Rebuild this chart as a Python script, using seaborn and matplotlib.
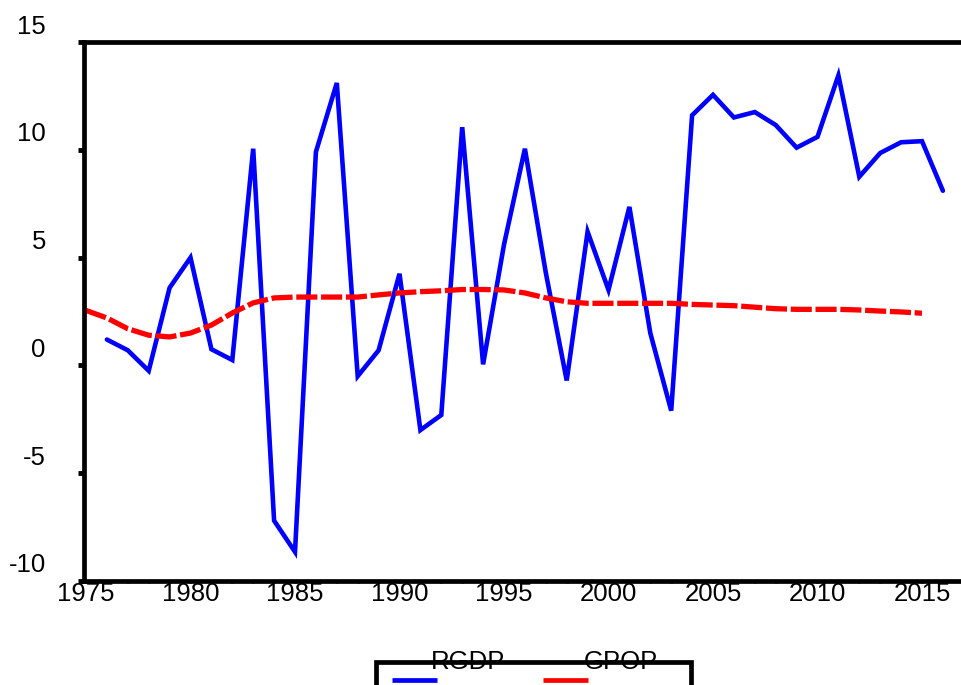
import numpy as np
import pandas as pd
import matplotlib
matplotlib.use("Agg")
import matplotlib.pyplot as plt
import seaborn as sns
from matplotlib.transforms import ScaledTranslation
from matplotlib.lines import Line2D

# ---- data ----
years_rgdp = list(range(1976, 2017))
rgdp = [1.2, 0.7, -0.25, 3.6, 5.0, 0.75, 0.25, 10.05, -7.2, -8.65,
        9.9, 13.1, -0.5, 0.7, 4.25, -3.0, -2.3, 11.05, 0.05, 5.6,
        10.05, 4.3, -0.7, 6.2, 3.5, 7.35, 1.5, -2.1, 11.6, 12.55,
        11.5, 11.75, 11.15, 10.1, 10.6, 13.45, 8.75, 9.85, 10.35, 10.4,
        8.1]
years_gpop = list(range(1975, 2016))
gpop = [2.55, 2.2, 1.7, 1.4, 1.32, 1.5, 1.87, 2.43, 2.9, 3.13,
        3.17, 3.17, 3.17, 3.17, 3.27, 3.36, 3.42, 3.46, 3.52, 3.52,
        3.5, 3.36, 3.13, 2.95, 2.88, 2.88, 2.88, 2.88, 2.88, 2.83,
        2.8, 2.77, 2.7, 2.63, 2.6, 2.6, 2.6, 2.57, 2.52, 2.48, 2.42]
series_names = ["RGDP", "GPOP"]
x_ticks = list(range(1975, 2016, 5))
y_ticks = [-10, -5, 0, 5, 10, 15]

df_rgdp = pd.DataFrame({"year": years_rgdp, "value": rgdp})
df_gpop = pd.DataFrame({"year": years_gpop, "value": gpop})

sns.set_theme(style="white")
plt.rcParams["font.family"] = ["Liberation Sans", "DejaVu Sans"]

FS = 18.5
W, H = 961, 685
fig = plt.figure(figsize=(W / 100, H / 100), dpi=100)
ax_left, ax_right, ax_top, ax_bot = 84, 1000, 42, 581
ax = fig.add_axes([ax_left / W, 1 - ax_bot / H, (ax_right - ax_left) / W, (ax_bot - ax_top) / H])

sns.lineplot(data=df_rgdp, x="year", y="value", ax=ax, color="#0000ff",
             linewidth=3.3, solid_joinstyle="miter")
sns.lineplot(data=df_gpop, x="year", y="value", ax=ax, color="#ff0000",
             linewidth=3.8, linestyle=(0, (4.0, 0.7)), dash_capstyle="butt")

px_per_year = 20.9
x0 = 1975 - 2 / px_per_year
ax.set_xlim(x0, x0 + (ax_right - ax_left) / px_per_year)
ax.set_ylim(-10, 15)
ax.set_xlabel("")
ax.set_ylabel("")

for side in ["left", "top", "bottom", "right"]:
    ax.spines[side].set_color("black")
    ax.spines[side].set_linewidth(3.4)

ax.set_xticks(x_ticks)
ax.set_xticklabels([str(v) for v in x_ticks])
ax.set_xticks(list(range(1975, 2018)), minor=True)
ax.set_yticks(y_ticks)
ax.set_yticklabels([str(v) for v in y_ticks])

ax.tick_params(axis="x", which="major", direction="out", length=1.5, width=2.2,
               pad=-1, labelsize=FS, colors="black", bottom=True)
ax.tick_params(axis="x", which="minor", direction="out", length=1.5, width=2.2,
               bottom=True)
ax.tick_params(axis="y", which="major", direction="out", length=4.5, width=3.5,
               pad=23, labelsize=FS, colors="black", left=True)

offset = ScaledTranslation(0, 18 / 100, fig.dpi_scale_trans)
for lbl in ax.get_yticklabels():
    lbl.set_transform(lbl.get_transform() + offset)

# ---- legend box ----
def fx(px):
    return px / W

def fy(py):
    return 1 - py / H

fig.add_artist(Line2D([fx(376), fx(376), fx(691), fx(691)],
                      [fy(700), fy(662), fy(662), fy(700)],
                      transform=fig.transFigure, color="black", linewidth=3.4,
                      solid_joinstyle="miter"))
fig.add_artist(Line2D([fx(392), fx(437)], [fy(680), fy(680)],
                      transform=fig.transFigure, color="#0000ff", linewidth=3.4,
                      solid_capstyle="butt"))
fig.add_artist(Line2D([fx(543), fx(588)], [fy(680), fy(680)],
                      transform=fig.transFigure, color="#ff0000", linewidth=3.4,
                      solid_capstyle="butt"))
fig.text(fx(468), fy(662), series_names[0], ha="center", va="center", fontsize=FS, color="black")
fig.text(fx(621), fy(662), series_names[1], ha="center", va="center", fontsize=FS, color="black")

fig.savefig("out.png", dpi=100)
